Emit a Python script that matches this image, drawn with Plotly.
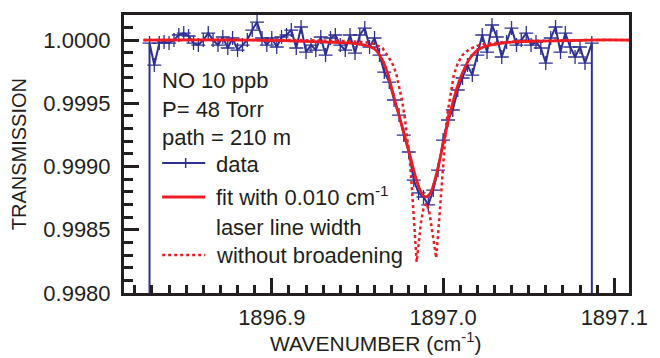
import plotly.graph_objects as go

# ---------------- data ----------------
wn_data = [
    1896.8286, 1896.8314, 1896.8343, 1896.8371, 1896.8400, 1896.8429, 1896.8457, 1896.8486,
    1896.8514, 1896.8543, 1896.8571, 1896.8600, 1896.8629, 1896.8657, 1896.8686, 1896.8714,
    1896.8743, 1896.8771, 1896.8800, 1896.8829, 1896.8857, 1896.8886, 1896.8914, 1896.8943,
    1896.8971, 1896.9000, 1896.9029, 1896.9057, 1896.9086, 1896.9114, 1896.9143, 1896.9171,
    1896.9200, 1896.9229, 1896.9257, 1896.9286, 1896.9314, 1896.9343, 1896.9371, 1896.9400,
    1896.9429, 1896.9457, 1896.9486, 1896.9514, 1896.9543, 1896.9571, 1896.9600, 1896.9629,
    1896.9657, 1896.9686, 1896.9714, 1896.9743, 1896.9771, 1896.9800, 1896.9829, 1896.9857,
    1896.9886, 1896.9914, 1896.9943, 1896.9971, 1897.0000, 1897.0029, 1897.0057, 1897.0086,
    1897.0114, 1897.0143, 1897.0171, 1897.0200, 1897.0229, 1897.0257, 1897.0286, 1897.0314,
    1897.0343, 1897.0371, 1897.0400, 1897.0429, 1897.0457, 1897.0486, 1897.0514, 1897.0543,
    1897.0571, 1897.0600, 1897.0629, 1897.0657, 1897.0686, 1897.0714, 1897.0743, 1897.0771,
    1897.0800, 1897.0829, 1897.0869,
]
trans_data = [
    0.999976, 0.999802, 0.999976, 0.999984, 0.999976, 1.000000, 1.000040, 1.000055,
    1.000032, 0.999976, 0.999960, 1.000000, 1.000055, 1.000000, 0.999960, 1.000024,
    0.999937, 1.000016, 0.999921, 0.999960, 1.000000, 1.000079, 1.000142, 1.000016,
    0.999960, 1.000016, 0.999945, 1.000024, 1.000040, 1.000079, 0.999937, 1.000103,
    0.999905, 0.999960, 0.999921, 1.000024, 0.999881, 1.000016, 1.000040, 0.999960,
    0.999921, 1.000040, 0.999897, 1.000040, 1.000095, 0.999945, 1.000016, 0.999881,
    0.999747, 0.999668, 0.999526, 0.999407, 0.999249, 0.999115, 0.998893, 0.998791,
    0.998759, 0.998696, 0.998814, 0.998972, 0.999209, 0.999368, 0.999447, 0.999605,
    0.999700, 0.999802, 0.999723, 0.999881, 1.000040, 0.999905, 1.000119, 1.000024,
    0.999866, 0.999984, 1.000095, 0.999960, 1.000000, 1.000055, 0.999960, 0.999984,
    0.999937, 0.999818, 1.000016, 1.000103, 0.999905, 1.000055, 0.999945, 0.999866,
    0.999945, 0.999818, 0.999976,
]
scan_edge_value = 0.9970  # data drop at both ends of the scan (off scale)

wn_fit = [
    1896.8251, 1896.8857, 1896.9143, 1896.9314, 1896.9457, 1896.9543, 1896.9600, 1896.9646,
    1896.9674, 1896.9697, 1896.9726, 1896.9754, 1896.9783, 1896.9811, 1896.9840, 1896.9869,
    1896.9897, 1896.9926, 1896.9954, 1896.9983, 1897.0011, 1897.0040, 1897.0069, 1897.0097,
    1897.0126, 1897.0154, 1897.0183, 1897.0211, 1897.0257, 1897.0314, 1897.0400, 1897.0571,
    1897.0857, 1897.1086,
]
trans_fit = [
    1.000000, 1.000000, 0.999992, 0.999984, 0.999976, 0.999960, 0.999929, 0.999842,
    0.999747, 0.999636, 0.999486, 0.999352, 0.999209, 0.999067, 0.998917, 0.998806,
    0.998759, 0.998791, 0.998901, 0.999067, 0.999241, 0.999415, 0.999565, 0.999684,
    0.999779, 0.999850, 0.999897, 0.999929, 0.999953, 0.999968, 0.999984, 0.999992,
    1.000000, 1.000000,
]

wn_nobroad = [
    1896.8251, 1896.9143, 1896.9429, 1896.9543, 1896.9600, 1896.9646, 1896.9674, 1896.9703,
    1896.9726, 1896.9743, 1896.9760, 1896.9777, 1896.9794, 1896.9806, 1896.9817, 1896.9829,
    1896.9840, 1896.9846, 1896.9857, 1896.9869, 1896.9886, 1896.9903, 1896.9920, 1896.9937,
    1896.9949, 1896.9960, 1896.9971, 1896.9983, 1896.9994, 1897.0006, 1897.0017, 1897.0029,
    1897.0046, 1897.0063, 1897.0086, 1897.0114, 1897.0154, 1897.0211, 1897.0286, 1897.0457,
    1897.0857, 1897.1086,
]
trans_nobroad = [
    1.000000, 1.000000, 0.999992, 0.999984, 0.999968, 0.999937, 0.999881, 0.999818,
    0.999739, 0.999644, 0.999526, 0.999383, 0.999209, 0.999051, 0.998854, 0.998617,
    0.998379, 0.998245, 0.998379, 0.998538, 0.998672, 0.998711, 0.998640, 0.998482,
    0.998356, 0.998277, 0.998459, 0.998696, 0.998933, 0.999131, 0.999304, 0.999447,
    0.999605, 0.999723, 0.999818, 0.999881, 0.999929, 0.999960, 0.999976, 0.999992,
    1.000000, 1.000000,
]

x_ticks = [1896.9, 1897.0, 1897.1]
y_ticks = [0.9980, 0.9985, 0.9990, 0.9995, 1.0000]
x_range = [1896.8137, 1897.1086]
y_range = [0.9980, 1.000198]

info_lines = ["NO 10 ppb", "P= 48 Torr", "path = 210 m"]
legend_labels = ["data", "fit with 0.010 cm<sup>-1</sup>", "laser line width", "without broadening"]

BLUE = "#2E3192"
RED = "#ED1C24"
INK = "#231F20"
FONT = "Liberation Sans, Arial, sans-serif"
TXT = 22

# ---------------- figure ----------------
fig = go.Figure()

fig.add_trace(go.Scatter(
    x=[wn_data[0]] + wn_data + [wn_data[-1]],
    y=[scan_edge_value] + trans_data + [scan_edge_value],
    mode="lines+markers",
    line=dict(color=BLUE, width=2),
    marker=dict(symbol="cross-thin", size=10, color=BLUE, line=dict(color=BLUE, width=1.3)),
))
fig.add_trace(go.Scatter(
    x=wn_nobroad, y=trans_nobroad, mode="lines",
    line=dict(color=RED, width=2.5, dash="dot"),
))
fig.add_trace(go.Scatter(
    x=wn_fit, y=trans_fit, mode="lines",
    line=dict(color=RED, width=2.8, shape="spline"),
))

W, H = 660, 358
ML, MR, MT, MB = 124, 20, 15, 65
PW, PH = W - ML - MR, H - MT - MB


def px(xp):
    return (xp - ML) / PW


def py(yp):
    return (H - MB - yp) / PH


annotations = []
for txt, yp in zip(info_lines, [81, 109, 137]):
    annotations.append(dict(x=px(161), y=py(yp), xref="paper", yref="paper", text=txt,
                            showarrow=False, xanchor="left", yanchor="middle",
                            font=dict(size=TXT, color=INK, family=FONT)))
for txt, yp in zip(legend_labels, [164, 196, 227, 256]):
    annotations.append(dict(x=px(216), y=py(yp), xref="paper", yref="paper", text=txt,
                            showarrow=False, xanchor="left", yanchor="middle",
                            font=dict(size=TXT, color=INK, family=FONT)))

annotations.append(dict(x=px(17), y=0.5, xref="paper", yref="paper", text="TRANSMISSION",
                        textangle=-90, showarrow=False, xanchor="center", yanchor="middle",
                        font=dict(size=20, color=INK, family=FONT)))
annotations.append(dict(x=px(381), y=py(357), xref="paper", yref="paper",
                        text="WAVENUMBER (cm<sup>-1</sup>)",
                        showarrow=False, xanchor="center", yanchor="bottom",
                        font=dict(size=21, color=INK, family=FONT)))

shapes = [
    dict(type="line", xref="paper", yref="paper", x0=px(163), x1=px(207), y0=py(163), y1=py(163),
         line=dict(color=BLUE, width=2)),
    dict(type="line", xref="paper", yref="paper", x0=px(187), x1=px(187), y0=py(158), y1=py(168),
         line=dict(color=BLUE, width=1.5)),
    dict(type="line", xref="paper", yref="paper", x0=px(163), x1=px(207), y0=py(197), y1=py(197),
         line=dict(color=RED, width=2.8)),
    dict(type="line", xref="paper", yref="paper", x0=px(163), x1=px(207), y0=py(255), y1=py(255),
         line=dict(color=RED, width=2.5, dash="dot")),
]

fig.update_layout(
    width=W, height=H,
    margin=dict(l=ML, r=MR, t=MT, b=MB, pad=0),
    paper_bgcolor="white", plot_bgcolor="white",
    showlegend=False,
    font=dict(family=FONT, color=INK, size=TXT),
    annotations=annotations,
    shapes=shapes,
    xaxis=dict(
        range=x_range, tickvals=x_ticks, ticktext=[f"{v:.1f}" for v in x_ticks],
        showline=True, linewidth=3, linecolor=INK, mirror=True,
        ticks="inside", ticklen=15, tickwidth=2.5, tickcolor=INK,
        showgrid=False, zeroline=False, ticklabelstandoff=3,
        tickfont=dict(size=TXT, color=INK, family=FONT),
        minor=dict(ticks="inside", dtick=0.01, tick0=1896.9, ticklen=8, tickwidth=2.5,
                   tickcolor=INK, showgrid=False),
    ),
    yaxis=dict(
        range=y_range, tickvals=y_ticks, ticktext=[f"{v:.4f}" for v in y_ticks],
        showline=True, linewidth=3, linecolor=INK, mirror=True,
        ticks="inside", ticklen=15, tickwidth=2.5, tickcolor=INK,
        showgrid=False, zeroline=False, ticklabelstandoff=6,
        tickfont=dict(size=TXT, color=INK, family=FONT),
        minor=dict(ticks="inside", dtick=0.0001, tick0=0.998, ticklen=9, tickwidth=2.5,
                   tickcolor=INK, showgrid=False),
    ),
)

fig.write_html("out.html")
